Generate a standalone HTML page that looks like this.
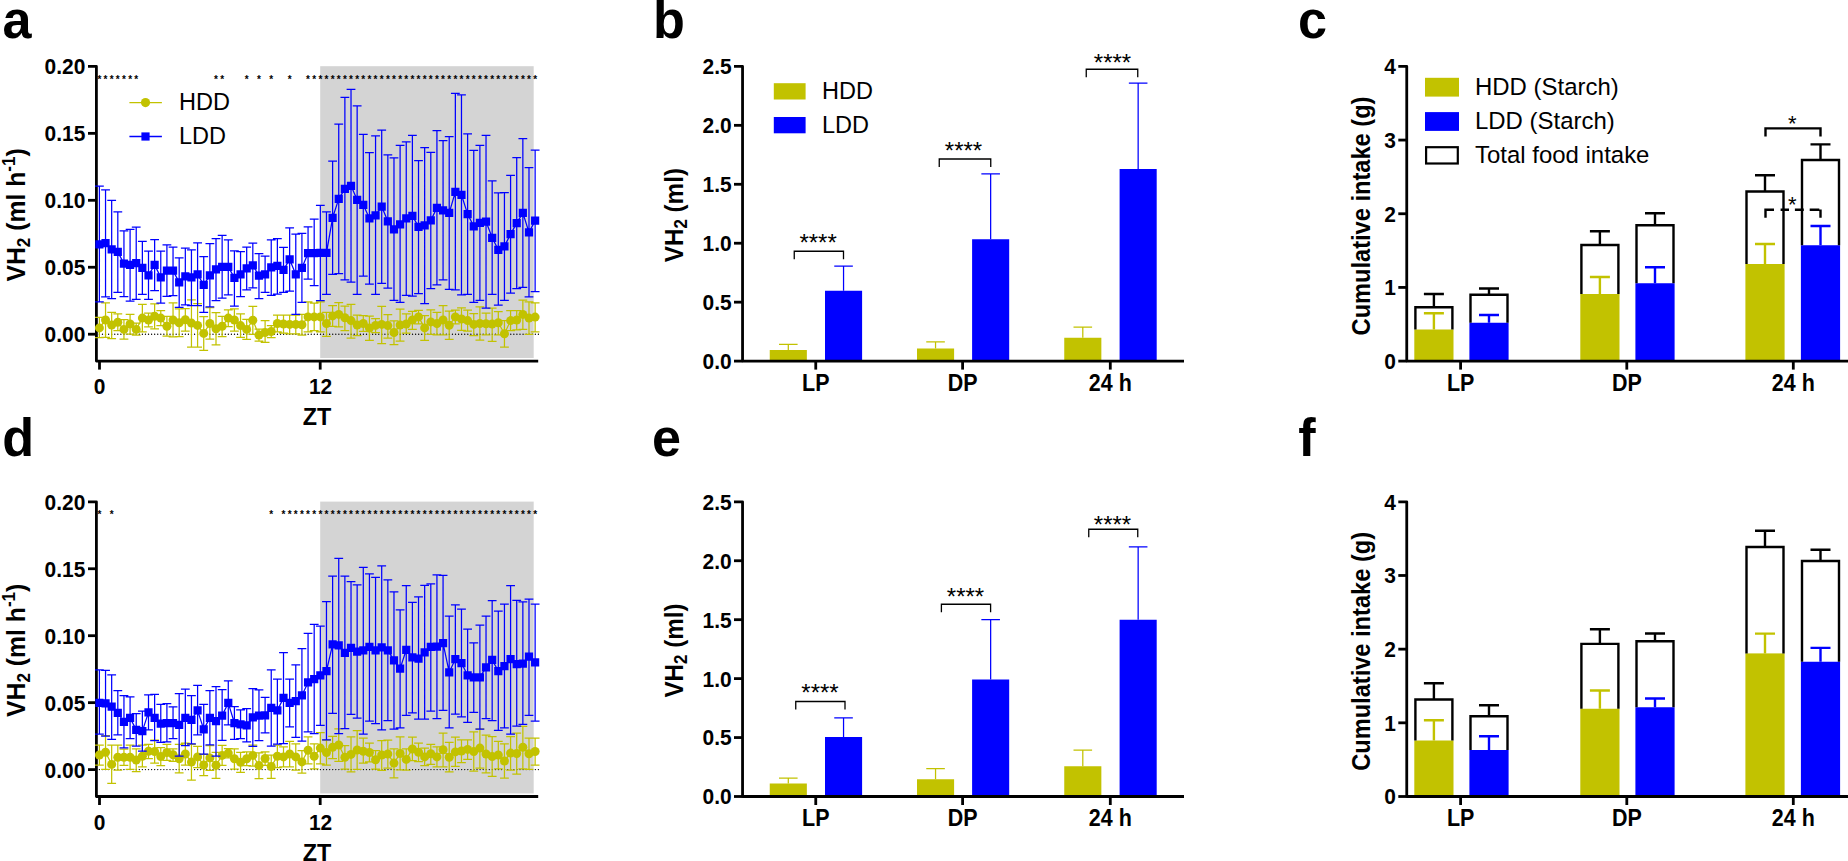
<!DOCTYPE html>
<html lang="en"><head><meta charset="utf-8"><title>Figure</title>
<style>html,body{margin:0;padding:0;background:#fff}svg{display:block}</style></head>
<body>
<svg width="1848" height="861" viewBox="0 0 1848 861" font-family="'Liberation Sans', sans-serif" font-weight="bold" text-anchor="middle" fill="#000">
<rect width="1848" height="861" fill="#fff"/>
<rect x="320.2" y="66.2" width="213.5" height="291.8" fill="#d4d4d4"/>
<path d="M88 66.4H96.4V361.1H538.2" fill="none" stroke="#000" stroke-width="2.8" stroke-linejoin="round"/>
<line x1="88" y1="334.2" x2="96.4" y2="334.2" stroke="#000" stroke-width="2.8" />
<text transform="translate(85.3 342.1) scale(0.918 1)" font-size="22.8" text-anchor="end" >0.00</text>
<line x1="88" y1="267.25" x2="96.4" y2="267.25" stroke="#000" stroke-width="2.8" />
<text transform="translate(85.3 275.15) scale(0.918 1)" font-size="22.8" text-anchor="end" >0.05</text>
<line x1="88" y1="200.3" x2="96.4" y2="200.3" stroke="#000" stroke-width="2.8" />
<text transform="translate(85.3 208.2) scale(0.918 1)" font-size="22.8" text-anchor="end" >0.10</text>
<line x1="88" y1="133.35" x2="96.4" y2="133.35" stroke="#000" stroke-width="2.8" />
<text transform="translate(85.3 141.25) scale(0.918 1)" font-size="22.8" text-anchor="end" >0.15</text>
<text transform="translate(85.3 74.3) scale(0.918 1)" font-size="22.8" text-anchor="end" >0.20</text>
<line x1="99.5" y1="361.1" x2="99.5" y2="369.6" stroke="#000" stroke-width="2.8" />
<text transform="translate(99.5 393.8) scale(0.918 1)" font-size="22.8" >0</text>
<line x1="320.2" y1="361.1" x2="320.2" y2="369.6" stroke="#000" stroke-width="2.8" />
<text transform="translate(320.6 393.8) scale(0.918 1)" font-size="22.8" >12</text>
<text transform="translate(317 424.9) scale(0.95 1)" font-size="24.6" >ZT</text>
<text transform="translate(25 214.9) rotate(-90) scale(0.978 1)" font-size="25.3">VH<tspan font-size="17.5" dy="4.5">2</tspan><tspan dy="-4.5"> (ml h</tspan><tspan font-size="17.5" dy="-10">-1</tspan><tspan dy="10">)</tspan></text>
<line x1="99.4" y1="334.2" x2="538.9" y2="334.2" stroke="#000" stroke-width="1.35" stroke-dasharray="0.01 3.06" stroke-linecap="round"/>
<path d="M99.4 327.88L105.54 320L111.67 325L117.81 322.25L123.95 329.38L130.09 324L136.22 329.38L142.36 318.12L148.5 320L154.63 316.25L160.77 318.12L166.91 326.25L173.04 320L179.18 322.75L185.32 319.75L191.45 323.12L197.59 325.38L203.73 333.38L209.87 323.5L216 328.75L222.14 326.25L228.28 318.12L234.41 320L240.55 325.62L246.69 329.38L252.82 320.25L258.96 335L265.1 332.5L271.24 331.5L277.37 323.5L283.51 324L289.65 324.38L295.78 324.38L301.92 324.75L308.06 316.88L314.19 316.88L320.33 316.88L326.47 323.5L332.61 315.88L338.74 314.38L344.88 317.75L351.02 320.62L357.15 325L363.29 323.5L369.43 328.12L375.56 325.38L381.7 324.38L387.84 325.62L393.98 332.5L400.11 325L406.25 324L412.39 320L418.52 316.88L424.66 327.88L430.8 321.88L436.93 323.5L443.07 320L449.21 325.25L455.35 316.88L461.48 319L467.62 320.62L473.76 324.38L479.89 323.5L486.03 323.75L492.17 324L498.3 322.75L504.44 333.75L510.58 320.62L516.72 320L522.85 314.38L528.99 318.12L535.13 317.12M99.4 317.25V337.5M95 317.25h8.8M95 337.5h8.8M105.54 302.88V337.25M101.14 302.88h8.8M101.14 337.25h8.8M111.67 312.25V338.5M107.27 312.25h8.8M107.27 338.5h8.8M117.81 313.75V330.62M113.41 313.75h8.8M113.41 330.62h8.8M123.95 319.62V339M119.55 319.62h8.8M119.55 339h8.8M130.09 314.38V334M125.69 314.38h8.8M125.69 334h8.8M136.22 323.12V335M131.82 323.12h8.8M131.82 335h8.8M142.36 304.38V331.88M137.96 304.38h8.8M137.96 331.88h8.8M148.5 313.12V326.88M144.1 313.12h8.8M144.1 326.88h8.8M154.63 303.75V328.75M150.23 303.75h8.8M150.23 328.75h8.8M160.77 310.62V325.62M156.37 310.62h8.8M156.37 325.62h8.8M166.91 316.25V336M162.51 316.25h8.8M162.51 336h8.8M173.04 302.88V336.88M168.64 302.88h8.8M168.64 336.88h8.8M179.18 308.75V336.62M174.78 308.75h8.8M174.78 336.62h8.8M185.32 308.5V331M180.92 308.5h8.8M180.92 331h8.8M191.45 299.75V347.12M187.05 299.75h8.8M187.05 347.12h8.8M197.59 303.5V347.12M193.19 303.5h8.8M193.19 347.12h8.8M203.73 316.5V350.25M199.33 316.5h8.8M199.33 350.25h8.8M209.87 307.5V339.12M205.47 307.5h8.8M205.47 339.12h8.8M216 312.5V344.75M211.6 312.5h8.8M211.6 344.75h8.8M222.14 316.25V336.5M217.74 316.25h8.8M217.74 336.5h8.8M228.28 309.75V326.5M223.88 309.75h8.8M223.88 326.5h8.8M234.41 308.75V331M230.01 308.75h8.8M230.01 331h8.8M240.55 313.75V337.25M236.15 313.75h8.8M236.15 337.25h8.8M246.69 319.38V339.38M242.29 319.38h8.8M242.29 339.38h8.8M252.82 306.25V334.38M248.42 306.25h8.8M248.42 334.38h8.8M258.96 329V341M254.56 329h8.8M254.56 341h8.8M265.1 320.62V342.25M260.7 320.62h8.8M260.7 342.25h8.8M271.24 325.62V337.5M266.84 325.62h8.8M266.84 337.5h8.8M277.37 315V331.88M272.97 315h8.8M272.97 331.88h8.8M283.51 315V333.12M279.11 315h8.8M279.11 333.12h8.8M289.65 315V333.75M285.25 315h8.8M285.25 333.75h8.8M295.78 315V333.75M291.38 315h8.8M291.38 333.75h8.8M301.92 314.38V335M297.52 314.38h8.8M297.52 335h8.8M308.06 301.88V331.88M303.66 301.88h8.8M303.66 331.88h8.8M314.19 303.12V330.62M309.8 303.12h8.8M309.8 330.62h8.8M320.33 301.88V331.88M315.93 301.88h8.8M315.93 331.88h8.8M326.47 312.25V336.25M322.07 312.25h8.8M322.07 336.25h8.8M332.61 305.62V326.25M328.21 305.62h8.8M328.21 326.25h8.8M338.74 302.5V326.88M334.34 302.5h8.8M334.34 326.88h8.8M344.88 306V330.62M340.48 306h8.8M340.48 330.62h8.8M351.02 304.38V338.12M346.62 304.38h8.8M346.62 338.12h8.8M357.15 315V335.62M352.75 315h8.8M352.75 335.62h8.8M363.29 315.62V331.25M358.89 315.62h8.8M358.89 331.25h8.8M369.43 316V340.38M365.03 316h8.8M365.03 340.38h8.8M375.56 318.5V332.5M371.16 318.5h8.8M371.16 332.5h8.8M381.7 306.25V343.5M377.3 306.25h8.8M377.3 343.5h8.8M387.84 314.62V338.12M383.44 314.62h8.8M383.44 338.12h8.8M393.98 320.88V344.62M389.58 320.88h8.8M389.58 344.62h8.8M400.11 309V341M395.71 309h8.8M395.71 341h8.8M406.25 313.75V333.12M401.85 313.75h8.8M401.85 333.12h8.8M412.39 311.25V329.38M407.99 311.25h8.8M407.99 329.38h8.8M418.52 310.25V323.75M414.12 310.25h8.8M414.12 323.75h8.8M424.66 315.62V340.38M420.26 315.62h8.8M420.26 340.38h8.8M430.8 309.75V334.38M426.4 309.75h8.8M426.4 334.38h8.8M436.93 312.25V334.75M432.53 312.25h8.8M432.53 334.75h8.8M443.07 305.62V334.75M438.67 305.62h8.8M438.67 334.75h8.8M449.21 311V339.38M444.81 311h8.8M444.81 339.38h8.8M455.35 310V323.75M450.95 310h8.8M450.95 323.75h8.8M461.48 307.75V330.25M457.08 307.75h8.8M457.08 330.25h8.8M467.62 310V331M463.22 310h8.8M463.22 331h8.8M473.76 313.5V335.62M469.36 313.5h8.8M469.36 335.62h8.8M479.89 306.88V340M475.49 306.88h8.8M475.49 340h8.8M486.03 313.12V334.75M481.63 313.12h8.8M481.63 334.75h8.8M492.17 308.12V341.25M487.77 308.12h8.8M487.77 341.25h8.8M498.3 311.5V334.75M493.9 311.5h8.8M493.9 334.75h8.8M504.44 320.62V347.12M500.04 320.62h8.8M500.04 347.12h8.8M510.58 310.62V330.62M506.18 310.62h8.8M506.18 330.62h8.8M516.72 310.62V329.75M512.32 310.62h8.8M512.32 329.75h8.8M522.85 300V329.38M518.45 300h8.8M518.45 329.38h8.8M528.99 301.88V334.38M524.59 301.88h8.8M524.59 334.38h8.8M535.13 302.88V331.88M530.73 302.88h8.8M530.73 331.88h8.8" fill="none" stroke="#c2c200" stroke-width="1.25"/>
<g fill="#c2c200"><circle cx="99.4" cy="327.88" r="4.5"/><circle cx="105.54" cy="320" r="4.5"/><circle cx="111.67" cy="325" r="4.5"/><circle cx="117.81" cy="322.25" r="4.5"/><circle cx="123.95" cy="329.38" r="4.5"/><circle cx="130.09" cy="324" r="4.5"/><circle cx="136.22" cy="329.38" r="4.5"/><circle cx="142.36" cy="318.12" r="4.5"/><circle cx="148.5" cy="320" r="4.5"/><circle cx="154.63" cy="316.25" r="4.5"/><circle cx="160.77" cy="318.12" r="4.5"/><circle cx="166.91" cy="326.25" r="4.5"/><circle cx="173.04" cy="320" r="4.5"/><circle cx="179.18" cy="322.75" r="4.5"/><circle cx="185.32" cy="319.75" r="4.5"/><circle cx="191.45" cy="323.12" r="4.5"/><circle cx="197.59" cy="325.38" r="4.5"/><circle cx="203.73" cy="333.38" r="4.5"/><circle cx="209.87" cy="323.5" r="4.5"/><circle cx="216" cy="328.75" r="4.5"/><circle cx="222.14" cy="326.25" r="4.5"/><circle cx="228.28" cy="318.12" r="4.5"/><circle cx="234.41" cy="320" r="4.5"/><circle cx="240.55" cy="325.62" r="4.5"/><circle cx="246.69" cy="329.38" r="4.5"/><circle cx="252.82" cy="320.25" r="4.5"/><circle cx="258.96" cy="335" r="4.5"/><circle cx="265.1" cy="332.5" r="4.5"/><circle cx="271.24" cy="331.5" r="4.5"/><circle cx="277.37" cy="323.5" r="4.5"/><circle cx="283.51" cy="324" r="4.5"/><circle cx="289.65" cy="324.38" r="4.5"/><circle cx="295.78" cy="324.38" r="4.5"/><circle cx="301.92" cy="324.75" r="4.5"/><circle cx="308.06" cy="316.88" r="4.5"/><circle cx="314.19" cy="316.88" r="4.5"/><circle cx="320.33" cy="316.88" r="4.5"/><circle cx="326.47" cy="323.5" r="4.5"/><circle cx="332.61" cy="315.88" r="4.5"/><circle cx="338.74" cy="314.38" r="4.5"/><circle cx="344.88" cy="317.75" r="4.5"/><circle cx="351.02" cy="320.62" r="4.5"/><circle cx="357.15" cy="325" r="4.5"/><circle cx="363.29" cy="323.5" r="4.5"/><circle cx="369.43" cy="328.12" r="4.5"/><circle cx="375.56" cy="325.38" r="4.5"/><circle cx="381.7" cy="324.38" r="4.5"/><circle cx="387.84" cy="325.62" r="4.5"/><circle cx="393.98" cy="332.5" r="4.5"/><circle cx="400.11" cy="325" r="4.5"/><circle cx="406.25" cy="324" r="4.5"/><circle cx="412.39" cy="320" r="4.5"/><circle cx="418.52" cy="316.88" r="4.5"/><circle cx="424.66" cy="327.88" r="4.5"/><circle cx="430.8" cy="321.88" r="4.5"/><circle cx="436.93" cy="323.5" r="4.5"/><circle cx="443.07" cy="320" r="4.5"/><circle cx="449.21" cy="325.25" r="4.5"/><circle cx="455.35" cy="316.88" r="4.5"/><circle cx="461.48" cy="319" r="4.5"/><circle cx="467.62" cy="320.62" r="4.5"/><circle cx="473.76" cy="324.38" r="4.5"/><circle cx="479.89" cy="323.5" r="4.5"/><circle cx="486.03" cy="323.75" r="4.5"/><circle cx="492.17" cy="324" r="4.5"/><circle cx="498.3" cy="322.75" r="4.5"/><circle cx="504.44" cy="333.75" r="4.5"/><circle cx="510.58" cy="320.62" r="4.5"/><circle cx="516.72" cy="320" r="4.5"/><circle cx="522.85" cy="314.38" r="4.5"/><circle cx="528.99" cy="318.12" r="4.5"/><circle cx="535.13" cy="317.12" r="4.5"/></g>
<path d="M99.4 244.42L105.54 243.17L111.67 249.41L117.81 251.91L123.95 263.65L130.09 264.9L136.22 263.15L142.36 267.89L148.5 275.38L154.63 264.9L160.77 277.38L166.91 270.64L173.04 270.64L179.18 282.38L185.32 276.38L191.45 277.38L197.59 274.39L203.73 284.88L209.87 275.38L216 269.39L222.14 266.89L228.28 266.89L234.41 277.88L240.55 274.39L246.69 268.39L252.82 265.39L258.96 275.63L265.1 274.39L271.24 267.39L277.37 265.89L283.51 269.89L289.65 259.4L295.78 274.39L301.92 267.89L308.06 253.16L314.19 253.16L320.33 252.81L326.47 252.81L332.61 217.84L338.74 198.86L344.88 188.87L351.02 185.87L357.15 199.86L363.29 204.86L369.43 218.34L375.56 215.34L381.7 206.6L387.84 221.34L393.98 229.33L400.11 224.34L406.25 218.34L412.39 215.84L418.52 226.83L424.66 225.33L430.8 220.34L436.93 207.85L443.07 210.35L449.21 212.85L455.35 191.87L461.48 194.87L467.62 214.1L473.76 226.33L479.89 222.84L486.03 221.59L492.17 237.82L498.3 249.81L504.44 246.31L510.58 234.08L516.72 223.09L522.85 212.85L528.99 232.33L535.13 220.59M99.4 186.22V301.86M95 186.22h8.8M95 301.86h8.8M105.54 189.97V296.86M101.14 189.97h8.8M101.14 296.86h8.8M111.67 200.46V298.61M107.27 200.46h8.8M107.27 298.61h8.8M117.81 211.95V292.37M113.41 211.95h8.8M113.41 292.37h8.8M123.95 230.93V296.61M119.55 230.93h8.8M119.55 296.61h8.8M130.09 229.43V301.11M125.69 229.43h8.8M125.69 301.11h8.8M136.22 227.18V299.36M131.82 227.18h8.8M131.82 299.36h8.8M142.36 241.42V294.37M137.96 241.42h8.8M137.96 294.37h8.8M148.5 251.16V299.36M144.1 251.16h8.8M144.1 299.36h8.8M154.63 239.67V290.62M150.23 239.67h8.8M150.23 290.62h8.8M160.77 251.16V303.11M156.37 251.16h8.8M156.37 303.11h8.8M166.91 244.92V296.36M162.51 244.92h8.8M162.51 296.36h8.8M173.04 247.16V295.61M168.64 247.16h8.8M168.64 295.61h8.8M179.18 257.9V307.35M174.78 257.9h8.8M174.78 307.35h8.8M185.32 248.16V304.86M180.92 248.16h8.8M180.92 304.86h8.8M191.45 249.91V305.6M187.05 249.91h8.8M187.05 305.6h8.8M197.59 242.92V305.6M193.19 242.92h8.8M193.19 305.6h8.8M203.73 256.65V312.35M199.33 256.65h8.8M199.33 312.35h8.8M209.87 243.67V306.85M205.47 243.67h8.8M205.47 306.85h8.8M216 238.67V300.61M211.6 238.67h8.8M211.6 300.61h8.8M222.14 235.42V298.11M217.74 235.42h8.8M217.74 298.11h8.8M228.28 239.92V294.87M223.88 239.92h8.8M223.88 294.87h8.8M234.41 250.91V306.1M230.01 250.91h8.8M230.01 306.1h8.8M240.55 251.66V296.61M236.15 251.66h8.8M236.15 296.61h8.8M246.69 247.16V289.87M242.29 247.16h8.8M242.29 289.87h8.8M252.82 243.17V287.87M248.42 243.17h8.8M248.42 287.87h8.8M258.96 253.66V298.61M254.56 253.66h8.8M254.56 298.61h8.8M265.1 256.15V292.37M260.7 256.15h8.8M260.7 292.37h8.8M271.24 239.92V295.36M266.84 239.92h8.8M266.84 295.36h8.8M277.37 238.67V294.12M272.97 238.67h8.8M272.97 294.12h8.8M283.51 247.41V292.37M279.11 247.41h8.8M279.11 292.37h8.8M289.65 227.93V291.12M285.25 227.93h8.8M285.25 291.12h8.8M295.78 234.18V314.35M291.38 234.18h8.8M291.38 314.35h8.8M301.92 233.43V302.36M297.52 233.43h8.8M297.52 302.36h8.8M308.06 226.93V279.13M303.66 226.93h8.8M303.66 279.13h8.8M314.19 219.19V285.62M309.8 219.19h8.8M309.8 285.62h8.8M320.33 205.35V300.61M315.93 205.35h8.8M315.93 300.61h8.8M326.47 211.85V294.37M322.07 211.85h8.8M322.07 294.37h8.8M332.61 161.15V274.39M328.21 161.15h8.8M328.21 274.39h8.8M338.74 124.19V273.64M334.34 124.19h8.8M334.34 273.64h8.8M344.88 97.46V279.88M340.48 97.46h8.8M340.48 279.88h8.8M351.02 89.47V282.13M346.62 89.47h8.8M346.62 282.13h8.8M357.15 105.95V294.37M352.75 105.95h8.8M352.75 294.37h8.8M363.29 134.43V276.13M358.89 134.43h8.8M358.89 276.13h8.8M369.43 152.66V284.13M365.03 152.66h8.8M365.03 284.13h8.8M375.56 135.92V294.37M371.16 135.92h8.8M371.16 294.37h8.8M381.7 130.18V283.38M377.3 130.18h8.8M377.3 283.38h8.8M387.84 154.91V288.12M383.44 154.91h8.8M383.44 288.12h8.8M393.98 157.9V300.36M389.58 157.9h8.8M389.58 300.36h8.8M400.11 145.41V302.36M395.71 145.41h8.8M395.71 302.36h8.8M406.25 141.92V295.36M401.85 141.92h8.8M401.85 295.36h8.8M412.39 135.42V296.11M407.99 135.42h8.8M407.99 296.11h8.8M418.52 160.65V293.62M414.12 160.65h8.8M414.12 293.62h8.8M424.66 147.66V303.61M420.26 147.66h8.8M420.26 303.61h8.8M430.8 152.41V288.62M426.4 152.41h8.8M426.4 288.62h8.8M436.93 130.68V284.88M432.53 130.68h8.8M432.53 284.88h8.8M443.07 140.67V279.88M438.67 140.67h8.8M438.67 279.88h8.8M449.21 136.67V289.37M444.81 136.67h8.8M444.81 289.37h8.8M455.35 93.47V289.87M450.95 93.47h8.8M450.95 289.87h8.8M461.48 94.97V294.87M457.08 94.97h8.8M457.08 294.87h8.8M467.62 133.93V294.37M463.22 133.93h8.8M463.22 294.37h8.8M473.76 150.41V302.36M469.36 150.41h8.8M469.36 302.36h8.8M479.89 145.41V300.36M475.49 145.41h8.8M475.49 300.36h8.8M486.03 135.42V308.1M481.63 135.42h8.8M481.63 308.1h8.8M492.17 180.88V294.37M487.77 180.88h8.8M487.77 294.37h8.8M498.3 192.87V305.1M493.9 192.87h8.8M493.9 305.1h8.8M504.44 192.62V300.36M500.04 192.62h8.8M500.04 300.36h8.8M510.58 175.38V293.12M506.18 175.38h8.8M506.18 293.12h8.8M516.72 157.65V288.62M512.32 157.65h8.8M512.32 288.62h8.8M522.85 138.67V287.37M518.45 138.67h8.8M518.45 287.37h8.8M528.99 167.64V296.86M524.59 167.64h8.8M524.59 296.86h8.8M535.13 150.16V291.62M530.73 150.16h8.8M530.73 291.62h8.8" fill="none" stroke="#0000ff" stroke-width="1.25"/>
<path fill="#0000ff" d="M95.3 240.32h8.2v8.2h-8.2zM101.44 239.07h8.2v8.2h-8.2zM107.57 245.31h8.2v8.2h-8.2zM113.71 247.81h8.2v8.2h-8.2zM119.85 259.55h8.2v8.2h-8.2zM125.99 260.8h8.2v8.2h-8.2zM132.12 259.05h8.2v8.2h-8.2zM138.26 263.79h8.2v8.2h-8.2zM144.4 271.28h8.2v8.2h-8.2zM150.53 260.8h8.2v8.2h-8.2zM156.67 273.28h8.2v8.2h-8.2zM162.81 266.54h8.2v8.2h-8.2zM168.94 266.54h8.2v8.2h-8.2zM175.08 278.28h8.2v8.2h-8.2zM181.22 272.28h8.2v8.2h-8.2zM187.35 273.28h8.2v8.2h-8.2zM193.49 270.29h8.2v8.2h-8.2zM199.63 280.78h8.2v8.2h-8.2zM205.77 271.28h8.2v8.2h-8.2zM211.9 265.29h8.2v8.2h-8.2zM218.04 262.79h8.2v8.2h-8.2zM224.18 262.79h8.2v8.2h-8.2zM230.31 273.78h8.2v8.2h-8.2zM236.45 270.29h8.2v8.2h-8.2zM242.59 264.29h8.2v8.2h-8.2zM248.72 261.29h8.2v8.2h-8.2zM254.86 271.53h8.2v8.2h-8.2zM261 270.29h8.2v8.2h-8.2zM267.14 263.29h8.2v8.2h-8.2zM273.27 261.79h8.2v8.2h-8.2zM279.41 265.79h8.2v8.2h-8.2zM285.55 255.3h8.2v8.2h-8.2zM291.68 270.29h8.2v8.2h-8.2zM297.82 263.79h8.2v8.2h-8.2zM303.96 249.06h8.2v8.2h-8.2zM310.09 249.06h8.2v8.2h-8.2zM316.23 248.71h8.2v8.2h-8.2zM322.37 248.71h8.2v8.2h-8.2zM328.51 213.74h8.2v8.2h-8.2zM334.64 194.76h8.2v8.2h-8.2zM340.78 184.77h8.2v8.2h-8.2zM346.92 181.77h8.2v8.2h-8.2zM353.05 195.76h8.2v8.2h-8.2zM359.19 200.76h8.2v8.2h-8.2zM365.33 214.24h8.2v8.2h-8.2zM371.46 211.24h8.2v8.2h-8.2zM377.6 202.5h8.2v8.2h-8.2zM383.74 217.24h8.2v8.2h-8.2zM389.88 225.23h8.2v8.2h-8.2zM396.01 220.24h8.2v8.2h-8.2zM402.15 214.24h8.2v8.2h-8.2zM408.29 211.74h8.2v8.2h-8.2zM414.42 222.73h8.2v8.2h-8.2zM420.56 221.23h8.2v8.2h-8.2zM426.7 216.24h8.2v8.2h-8.2zM432.83 203.75h8.2v8.2h-8.2zM438.97 206.25h8.2v8.2h-8.2zM445.11 208.75h8.2v8.2h-8.2zM451.25 187.77h8.2v8.2h-8.2zM457.38 190.77h8.2v8.2h-8.2zM463.52 210h8.2v8.2h-8.2zM469.66 222.23h8.2v8.2h-8.2zM475.79 218.74h8.2v8.2h-8.2zM481.93 217.49h8.2v8.2h-8.2zM488.07 233.72h8.2v8.2h-8.2zM494.2 245.71h8.2v8.2h-8.2zM500.34 242.21h8.2v8.2h-8.2zM506.48 229.98h8.2v8.2h-8.2zM512.62 218.99h8.2v8.2h-8.2zM518.75 208.75h8.2v8.2h-8.2zM524.89 228.23h8.2v8.2h-8.2zM531.03 216.49h8.2v8.2h-8.2z"/>
<text font-size="10" text-anchor="middle" y="82.8" x="99.4 105.54 111.67 117.81 123.95 130.09 136.22 216 222.14 246.69 258.96 271.24 289.65 308.06 314.19 320.33 326.47 332.61 338.74 344.88 351.02 357.15 363.29 369.43 375.56 381.7 387.84 393.98 400.11 406.25 412.39 418.52 424.66 430.8 436.93 443.07 449.21 455.35 461.48 467.62 473.76 479.89 486.03 492.17 498.3 504.44 510.58 516.72 522.85 528.99 535.13">***************************************************</text>
<line x1="129.4" y1="102.6" x2="161.9" y2="102.6" stroke="#c2c200" stroke-width="1.3" />
<circle cx="145.5" cy="102.6" r="4.6" fill="#c2c200"/>
<line x1="129.4" y1="136.5" x2="161.9" y2="136.5" stroke="#0000ff" stroke-width="1.3" />
<rect x="141.4" y="132.4" width="8.2" height="8.2" fill="#0000ff"/>
<text transform="translate(179 110)" font-size="23.5" font-weight="normal" text-anchor="start" >HDD</text>
<text transform="translate(179 144)" font-size="23.5" font-weight="normal" text-anchor="start" >LDD</text>
<rect x="320.2" y="501.6" width="213.5" height="291.8" fill="#d4d4d4"/>
<path d="M88 501.8H96.4V796.5H538.2" fill="none" stroke="#000" stroke-width="2.8" stroke-linejoin="round"/>
<line x1="88" y1="769.6" x2="96.4" y2="769.6" stroke="#000" stroke-width="2.8" />
<text transform="translate(85.3 777.5) scale(0.918 1)" font-size="22.8" text-anchor="end" >0.00</text>
<line x1="88" y1="702.65" x2="96.4" y2="702.65" stroke="#000" stroke-width="2.8" />
<text transform="translate(85.3 710.55) scale(0.918 1)" font-size="22.8" text-anchor="end" >0.05</text>
<line x1="88" y1="635.7" x2="96.4" y2="635.7" stroke="#000" stroke-width="2.8" />
<text transform="translate(85.3 643.6) scale(0.918 1)" font-size="22.8" text-anchor="end" >0.10</text>
<line x1="88" y1="568.75" x2="96.4" y2="568.75" stroke="#000" stroke-width="2.8" />
<text transform="translate(85.3 576.65) scale(0.918 1)" font-size="22.8" text-anchor="end" >0.15</text>
<text transform="translate(85.3 509.7) scale(0.918 1)" font-size="22.8" text-anchor="end" >0.20</text>
<line x1="99.5" y1="796.5" x2="99.5" y2="805" stroke="#000" stroke-width="2.8" />
<text transform="translate(99.5 829.8) scale(0.918 1)" font-size="22.8" >0</text>
<line x1="320.2" y1="796.5" x2="320.2" y2="805" stroke="#000" stroke-width="2.8" />
<text transform="translate(320.6 829.8) scale(0.918 1)" font-size="22.8" >12</text>
<text transform="translate(317 860.9) scale(0.95 1)" font-size="24.6" >ZT</text>
<text transform="translate(25 650.3) rotate(-90) scale(0.978 1)" font-size="25.3">VH<tspan font-size="17.5" dy="4.5">2</tspan><tspan dy="-4.5"> (ml h</tspan><tspan font-size="17.5" dy="-10">-1</tspan><tspan dy="10">)</tspan></text>
<line x1="99.4" y1="769.6" x2="538.9" y2="769.6" stroke="#000" stroke-width="1.35" stroke-dasharray="0.01 3.06" stroke-linecap="round"/>
<path d="M99.4 755L105.54 752.25L111.67 764.38L117.81 757.25L123.95 757.25L130.09 757.25L136.22 760L142.36 756.25L148.5 751.25L154.63 751.62L160.77 756.5L166.91 752.5L173.04 754.75L179.18 758.75L185.32 754L191.45 762.12L197.59 756.88L203.73 765L209.87 757.88L216 765.25L222.14 755.38L228.28 753.12L234.41 758.75L240.55 762.25L246.69 758.75L252.82 755.38L258.96 765.62L265.1 758.5L271.24 766.5L277.37 756.25L283.51 756.88L289.65 754L295.78 756.88L301.92 761.88L308.06 750.25L314.19 756.25L320.33 748.12L326.47 752.5L332.61 747.25L338.74 745L344.88 757.25L351.02 754.38L357.15 750L363.29 751.25L369.43 752.5L375.56 759.75L381.7 755L387.84 754L393.98 763.12L400.11 753.5L406.25 759.38L412.39 749L418.52 752.25L424.66 756.88L430.8 753.75L436.93 756.88L443.07 749.75L449.21 757.25L455.35 751.88L461.48 751L467.62 749.38L473.76 751.62L479.89 748.12L486.03 754L492.17 756.5L498.3 755L504.44 761L510.58 753.12L516.72 753.5L522.85 747.25L528.99 753.75L535.13 751.5M99.4 745V765M95 745h8.8M95 765h8.8M105.54 735.62V769.38M101.14 735.62h8.8M101.14 769.38h8.8M111.67 745V783.38M107.27 745h8.8M107.27 783.38h8.8M117.81 745V770M113.41 745h8.8M113.41 770h8.8M123.95 749V765.25M119.55 749h8.8M119.55 765.25h8.8M130.09 745V769.38M125.69 745h8.8M125.69 769.38h8.8M136.22 748.75V771.5M131.82 748.75h8.8M131.82 771.5h8.8M142.36 745V766.88M137.96 745h8.8M137.96 766.88h8.8M148.5 744.38V758.5M144.1 744.38h8.8M144.1 758.5h8.8M154.63 740V763.12M150.23 740h8.8M150.23 763.12h8.8M160.77 747.5V765.62M156.37 747.5h8.8M156.37 765.62h8.8M166.91 744.38V760.38M162.51 744.38h8.8M162.51 760.38h8.8M173.04 748.75V761.25M168.64 748.75h8.8M168.64 761.25h8.8M179.18 744.38V772.88M174.78 744.38h8.8M174.78 772.88h8.8M185.32 743.12V765M180.92 743.12h8.8M180.92 765h8.8M191.45 744.38V780M187.05 744.38h8.8M187.05 780h8.8M197.59 746.25V767.5M193.19 746.25h8.8M193.19 767.5h8.8M203.73 754.38V775.62M199.33 754.38h8.8M199.33 775.62h8.8M209.87 745.62V770.25M205.47 745.62h8.8M205.47 770.25h8.8M216 752.25V778.38M211.6 752.25h8.8M211.6 778.38h8.8M222.14 745.25V765.25M217.74 745.25h8.8M217.74 765.25h8.8M228.28 748.5V757.75M223.88 748.5h8.8M223.88 757.75h8.8M234.41 748.75V769M230.01 748.75h8.8M230.01 769h8.8M240.55 752.25V772.25M236.15 752.25h8.8M236.15 772.25h8.8M246.69 751.88V765.62M242.29 751.88h8.8M242.29 765.62h8.8M252.82 745V766M248.42 745h8.8M248.42 766h8.8M258.96 752.75V778.5M254.56 752.75h8.8M254.56 778.5h8.8M265.1 751.88V765.25M260.7 751.88h8.8M260.7 765.25h8.8M271.24 755V778.38M266.84 755h8.8M266.84 778.38h8.8M277.37 745V767.5M272.97 745h8.8M272.97 767.5h8.8M283.51 746.88V766.88M279.11 746.88h8.8M279.11 766.88h8.8M289.65 741.25V766.88M285.25 741.25h8.8M285.25 766.88h8.8M295.78 743.75V770M291.38 743.75h8.8M291.38 770h8.8M301.92 750.62V773.12M297.52 750.62h8.8M297.52 773.12h8.8M308.06 736.88V763.75M303.66 736.88h8.8M303.66 763.75h8.8M314.19 743.75V768.75M309.8 743.75h8.8M309.8 768.75h8.8M320.33 732.5V763.75M315.93 732.5h8.8M315.93 763.75h8.8M326.47 740V765M322.07 740h8.8M322.07 765h8.8M332.61 736.25V758.5M328.21 736.25h8.8M328.21 758.5h8.8M338.74 728.75V761.25M334.34 728.75h8.8M334.34 761.25h8.8M344.88 745.62V769M340.48 745.62h8.8M340.48 769h8.8M351.02 736.88V771.88M346.62 736.88h8.8M346.62 771.88h8.8M357.15 730.62V769.38M352.75 730.62h8.8M352.75 769.38h8.8M363.29 738.12V763.12M358.89 738.12h8.8M358.89 763.12h8.8M369.43 743.12V761.88M365.03 743.12h8.8M365.03 761.88h8.8M375.56 750.62V769M371.16 750.62h8.8M371.16 769h8.8M381.7 740.62V770.25M377.3 740.62h8.8M377.3 770.25h8.8M387.84 740V768.12M383.44 740h8.8M383.44 768.12h8.8M393.98 748.75V777.75M389.58 748.75h8.8M389.58 777.75h8.8M400.11 736.88V769.75M395.71 736.88h8.8M395.71 769.75h8.8M406.25 748.75V770M401.85 748.75h8.8M401.85 770h8.8M412.39 737.12V760.62M407.99 737.12h8.8M407.99 760.62h8.8M418.52 743.12V761.5M414.12 743.12h8.8M414.12 761.5h8.8M424.66 748.12V765.62M420.26 748.12h8.8M420.26 765.62h8.8M430.8 744.38V764.38M426.4 744.38h8.8M426.4 764.38h8.8M436.93 746.88V766.88M432.53 746.88h8.8M432.53 766.88h8.8M443.07 733.12V766.88M438.67 733.12h8.8M438.67 766.88h8.8M449.21 742.25V771.88M444.81 742.25h8.8M444.81 771.88h8.8M455.35 737.12V766.25M450.95 737.12h8.8M450.95 766.25h8.8M461.48 739.75V762.5M457.08 739.75h8.8M457.08 762.5h8.8M467.62 739.75V759.38M463.22 739.75h8.8M463.22 759.38h8.8M473.76 731.88V771M469.36 731.88h8.8M469.36 771h8.8M479.89 728.75V768.12M475.49 728.75h8.8M475.49 768.12h8.8M486.03 735V772.88M481.63 735h8.8M481.63 772.88h8.8M492.17 736.5V776.25M487.77 736.5h8.8M487.77 776.25h8.8M498.3 741.25V768.75M493.9 741.25h8.8M493.9 768.75h8.8M504.44 743.75V778.12M500.04 743.75h8.8M500.04 778.12h8.8M510.58 736.5V770M506.18 736.5h8.8M506.18 770h8.8M516.72 733.12V774M512.32 733.12h8.8M512.32 774h8.8M522.85 726.25V768.75M518.45 726.25h8.8M518.45 768.75h8.8M528.99 738.12V769.38M524.59 738.12h8.8M524.59 769.38h8.8M535.13 738.12V765M530.73 738.12h8.8M530.73 765h8.8" fill="none" stroke="#c2c200" stroke-width="1.25"/>
<g fill="#c2c200"><circle cx="99.4" cy="755" r="4.5"/><circle cx="105.54" cy="752.25" r="4.5"/><circle cx="111.67" cy="764.38" r="4.5"/><circle cx="117.81" cy="757.25" r="4.5"/><circle cx="123.95" cy="757.25" r="4.5"/><circle cx="130.09" cy="757.25" r="4.5"/><circle cx="136.22" cy="760" r="4.5"/><circle cx="142.36" cy="756.25" r="4.5"/><circle cx="148.5" cy="751.25" r="4.5"/><circle cx="154.63" cy="751.62" r="4.5"/><circle cx="160.77" cy="756.5" r="4.5"/><circle cx="166.91" cy="752.5" r="4.5"/><circle cx="173.04" cy="754.75" r="4.5"/><circle cx="179.18" cy="758.75" r="4.5"/><circle cx="185.32" cy="754" r="4.5"/><circle cx="191.45" cy="762.12" r="4.5"/><circle cx="197.59" cy="756.88" r="4.5"/><circle cx="203.73" cy="765" r="4.5"/><circle cx="209.87" cy="757.88" r="4.5"/><circle cx="216" cy="765.25" r="4.5"/><circle cx="222.14" cy="755.38" r="4.5"/><circle cx="228.28" cy="753.12" r="4.5"/><circle cx="234.41" cy="758.75" r="4.5"/><circle cx="240.55" cy="762.25" r="4.5"/><circle cx="246.69" cy="758.75" r="4.5"/><circle cx="252.82" cy="755.38" r="4.5"/><circle cx="258.96" cy="765.62" r="4.5"/><circle cx="265.1" cy="758.5" r="4.5"/><circle cx="271.24" cy="766.5" r="4.5"/><circle cx="277.37" cy="756.25" r="4.5"/><circle cx="283.51" cy="756.88" r="4.5"/><circle cx="289.65" cy="754" r="4.5"/><circle cx="295.78" cy="756.88" r="4.5"/><circle cx="301.92" cy="761.88" r="4.5"/><circle cx="308.06" cy="750.25" r="4.5"/><circle cx="314.19" cy="756.25" r="4.5"/><circle cx="320.33" cy="748.12" r="4.5"/><circle cx="326.47" cy="752.5" r="4.5"/><circle cx="332.61" cy="747.25" r="4.5"/><circle cx="338.74" cy="745" r="4.5"/><circle cx="344.88" cy="757.25" r="4.5"/><circle cx="351.02" cy="754.38" r="4.5"/><circle cx="357.15" cy="750" r="4.5"/><circle cx="363.29" cy="751.25" r="4.5"/><circle cx="369.43" cy="752.5" r="4.5"/><circle cx="375.56" cy="759.75" r="4.5"/><circle cx="381.7" cy="755" r="4.5"/><circle cx="387.84" cy="754" r="4.5"/><circle cx="393.98" cy="763.12" r="4.5"/><circle cx="400.11" cy="753.5" r="4.5"/><circle cx="406.25" cy="759.38" r="4.5"/><circle cx="412.39" cy="749" r="4.5"/><circle cx="418.52" cy="752.25" r="4.5"/><circle cx="424.66" cy="756.88" r="4.5"/><circle cx="430.8" cy="753.75" r="4.5"/><circle cx="436.93" cy="756.88" r="4.5"/><circle cx="443.07" cy="749.75" r="4.5"/><circle cx="449.21" cy="757.25" r="4.5"/><circle cx="455.35" cy="751.88" r="4.5"/><circle cx="461.48" cy="751" r="4.5"/><circle cx="467.62" cy="749.38" r="4.5"/><circle cx="473.76" cy="751.62" r="4.5"/><circle cx="479.89" cy="748.12" r="4.5"/><circle cx="486.03" cy="754" r="4.5"/><circle cx="492.17" cy="756.5" r="4.5"/><circle cx="498.3" cy="755" r="4.5"/><circle cx="504.44" cy="761" r="4.5"/><circle cx="510.58" cy="753.12" r="4.5"/><circle cx="516.72" cy="753.5" r="4.5"/><circle cx="522.85" cy="747.25" r="4.5"/><circle cx="528.99" cy="753.75" r="4.5"/><circle cx="535.13" cy="751.5" r="4.5"/></g>
<path d="M99.4 702.89L105.54 703.39L111.67 706.64L117.81 712.88L123.95 721.87L130.09 717.88L136.22 729.87L142.36 731.11L148.5 712.38L154.63 717.88L160.77 723.62L166.91 723.12L173.04 723.12L179.18 724.87L185.32 717.88L191.45 719.88L197.59 710.38L203.73 729.37L209.87 717.88L216 721.12L222.14 715.63L228.28 702.89L234.41 723.12L240.55 724.37L246.69 725.37L252.82 717.38L258.96 715.63L265.1 715.38L271.24 707.89L277.37 710.38L283.51 697.9L289.65 702.89L295.78 701.14L301.92 695.4L308.06 682.41L314.19 679.17L320.33 675.32L326.47 671.07L332.61 644.35L338.74 645.35L344.88 652.84L351.02 647.85L357.15 651.59L363.29 650.34L369.43 646.85L375.56 650.34L381.7 647.35L387.84 650.34L393.98 660.33L400.11 668.58L406.25 649.85L412.39 657.34L418.52 658.59L424.66 652.34L430.8 646.85L436.93 646.6L443.07 643.1L449.21 672.32L455.35 659.09L461.48 663.08L467.62 675.32L473.76 677.32L479.89 677.32L486.03 667.33L492.17 659.84L498.3 671.07L504.44 666.08L510.58 659.09L516.72 664.08L522.85 663.58L528.99 656.59L535.13 662.33M99.4 669.93V734.11M95 669.93h8.8M95 734.11h8.8M105.54 670.42V736.11M101.14 670.42h8.8M101.14 736.11h8.8M111.67 674.92V739.36M107.27 674.92h8.8M107.27 739.36h8.8M117.81 690.65V734.86M113.41 690.65h8.8M113.41 734.86h8.8M123.95 695.65V747.85M119.55 695.65h8.8M119.55 747.85h8.8M130.09 696.9V738.61M125.69 696.9h8.8M125.69 738.61h8.8M136.22 713.63V746.1M131.82 713.63h8.8M131.82 746.1h8.8M142.36 711.13V751.09M137.96 711.13h8.8M137.96 751.09h8.8M148.5 694.9V729.87M144.1 694.9h8.8M144.1 729.87h8.8M154.63 694.4V740.6M150.23 694.4h8.8M150.23 740.6h8.8M160.77 704.39V742.35M156.37 704.39h8.8M156.37 742.35h8.8M166.91 703.64V741.85M162.51 703.64h8.8M162.51 741.85h8.8M173.04 706.89V738.61M168.64 706.89h8.8M168.64 738.61h8.8M179.18 693.65V756.09M174.78 693.65h8.8M174.78 756.09h8.8M185.32 689.16V745.6M180.92 689.16h8.8M180.92 745.6h8.8M191.45 695.65V743.85M187.05 695.65h8.8M187.05 743.85h8.8M197.59 685.41V734.86M193.19 685.41h8.8M193.19 734.86h8.8M203.73 704.39V754.09M199.33 704.39h8.8M199.33 754.09h8.8M209.87 690.65V744.85M205.47 690.65h8.8M205.47 744.85h8.8M216 686.66V756.09M211.6 686.66h8.8M211.6 756.09h8.8M222.14 689.66V740.35M217.74 689.66h8.8M217.74 740.35h8.8M228.28 680.91V724.87M223.88 680.91h8.8M223.88 724.87h8.8M234.41 706.64V739.36M230.01 706.64h8.8M230.01 739.36h8.8M240.55 709.89V738.61M236.15 709.89h8.8M236.15 738.61h8.8M246.69 708.64V741.85M242.29 708.64h8.8M242.29 741.85h8.8M252.82 688.66V746.35M248.42 688.66h8.8M248.42 746.35h8.8M258.96 689.91V740.6M254.56 689.91h8.8M254.56 740.6h8.8M265.1 697.4V732.86M260.7 697.4h8.8M260.7 732.86h8.8M271.24 669.93V746.1M266.84 669.93h8.8M266.84 746.1h8.8M277.37 679.17V744.1M272.97 679.17h8.8M272.97 744.1h8.8M283.51 652.69V743.6M279.11 652.69h8.8M279.11 743.6h8.8M289.65 679.17V726.87M285.25 679.17h8.8M285.25 726.87h8.8M295.78 664.93V737.36M291.38 664.93h8.8M291.38 737.36h8.8M301.92 648.7V741.1M297.52 648.7h8.8M297.52 741.1h8.8M308.06 633.46V731.86M303.66 633.46h8.8M303.66 731.86h8.8M314.19 624.47V733.61M309.8 624.47h8.8M309.8 733.61h8.8M320.33 626.12V725.37M315.93 626.12h8.8M315.93 725.37h8.8M326.47 601.64V739.86M322.07 601.64h8.8M322.07 739.86h8.8M332.61 576.17V713.38M328.21 576.17h8.8M328.21 713.38h8.8M338.74 558.44V733.61M334.34 558.44h8.8M334.34 733.61h8.8M344.88 576.17V728.62M340.48 576.17h8.8M340.48 728.62h8.8M351.02 581.66V714.38M346.62 581.66h8.8M346.62 714.38h8.8M357.15 584.91V718.13M352.75 584.91h8.8M352.75 718.13h8.8M363.29 567.43V734.11M358.89 567.43h8.8M358.89 734.11h8.8M369.43 573.92V721.12M365.03 573.92h8.8M365.03 721.12h8.8M375.56 577.42V723.62M371.16 577.42h8.8M371.16 723.62h8.8M381.7 565.93V729.87M377.3 565.93h8.8M377.3 729.87h8.8M387.84 579.92V720.62M383.44 579.92h8.8M383.44 720.62h8.8M393.98 591.9V729.12M389.58 591.9h8.8M389.58 729.12h8.8M400.11 609.89V727.87M395.71 609.89h8.8M395.71 727.87h8.8M406.25 585.66V715.38M401.85 585.66h8.8M401.85 715.38h8.8M412.39 602.39V712.88M407.99 602.39h8.8M407.99 712.88h8.8M418.52 596.9V719.13M414.12 596.9h8.8M414.12 719.13h8.8M424.66 585.41V719.13M420.26 585.41h8.8M420.26 719.13h8.8M430.8 583.91V711.13M426.4 583.91h8.8M426.4 711.13h8.8M436.93 574.92V718.63M432.53 574.92h8.8M432.53 718.63h8.8M443.07 575.42V710.38M438.67 575.42h8.8M438.67 710.38h8.8M449.21 616.13V727.87M444.81 616.13h8.8M444.81 727.87h8.8M455.35 604.89V714.13M450.95 604.89h8.8M450.95 714.13h8.8M461.48 609.14V716.88M457.08 609.14h8.8M457.08 716.88h8.8M467.62 629.12V722.37M463.22 629.12h8.8M463.22 722.37h8.8M473.76 642.85V712.38M469.36 642.85h8.8M469.36 712.38h8.8M479.89 625.12V729.12M475.49 625.12h8.8M475.49 729.12h8.8M486.03 616.13V718.63M481.63 616.13h8.8M481.63 718.63h8.8M492.17 600.64V720.62M487.77 600.64h8.8M487.77 720.62h8.8M498.3 611.13V730.36M493.9 611.13h8.8M493.9 730.36h8.8M504.44 604.14V727.87M500.04 604.14h8.8M500.04 727.87h8.8M510.58 585.66V734.11M506.18 585.66h8.8M506.18 734.11h8.8M516.72 600.39V726.12M512.32 600.39h8.8M512.32 726.12h8.8M522.85 601.89V724.37M518.45 601.89h8.8M518.45 724.37h8.8M528.99 599.15V715.38M524.59 599.15h8.8M524.59 715.38h8.8M535.13 604.14V721.12M530.73 604.14h8.8M530.73 721.12h8.8" fill="none" stroke="#0000ff" stroke-width="1.25"/>
<path fill="#0000ff" d="M95.3 698.79h8.2v8.2h-8.2zM101.44 699.29h8.2v8.2h-8.2zM107.57 702.54h8.2v8.2h-8.2zM113.71 708.78h8.2v8.2h-8.2zM119.85 717.77h8.2v8.2h-8.2zM125.99 713.78h8.2v8.2h-8.2zM132.12 725.77h8.2v8.2h-8.2zM138.26 727.01h8.2v8.2h-8.2zM144.4 708.28h8.2v8.2h-8.2zM150.53 713.78h8.2v8.2h-8.2zM156.67 719.52h8.2v8.2h-8.2zM162.81 719.02h8.2v8.2h-8.2zM168.94 719.02h8.2v8.2h-8.2zM175.08 720.77h8.2v8.2h-8.2zM181.22 713.78h8.2v8.2h-8.2zM187.35 715.78h8.2v8.2h-8.2zM193.49 706.28h8.2v8.2h-8.2zM199.63 725.27h8.2v8.2h-8.2zM205.77 713.78h8.2v8.2h-8.2zM211.9 717.02h8.2v8.2h-8.2zM218.04 711.53h8.2v8.2h-8.2zM224.18 698.79h8.2v8.2h-8.2zM230.31 719.02h8.2v8.2h-8.2zM236.45 720.27h8.2v8.2h-8.2zM242.59 721.27h8.2v8.2h-8.2zM248.72 713.28h8.2v8.2h-8.2zM254.86 711.53h8.2v8.2h-8.2zM261 711.28h8.2v8.2h-8.2zM267.14 703.79h8.2v8.2h-8.2zM273.27 706.28h8.2v8.2h-8.2zM279.41 693.8h8.2v8.2h-8.2zM285.55 698.79h8.2v8.2h-8.2zM291.68 697.04h8.2v8.2h-8.2zM297.82 691.3h8.2v8.2h-8.2zM303.96 678.31h8.2v8.2h-8.2zM310.09 675.07h8.2v8.2h-8.2zM316.23 671.22h8.2v8.2h-8.2zM322.37 666.97h8.2v8.2h-8.2zM328.51 640.25h8.2v8.2h-8.2zM334.64 641.25h8.2v8.2h-8.2zM340.78 648.74h8.2v8.2h-8.2zM346.92 643.75h8.2v8.2h-8.2zM353.05 647.49h8.2v8.2h-8.2zM359.19 646.24h8.2v8.2h-8.2zM365.33 642.75h8.2v8.2h-8.2zM371.46 646.24h8.2v8.2h-8.2zM377.6 643.25h8.2v8.2h-8.2zM383.74 646.24h8.2v8.2h-8.2zM389.88 656.23h8.2v8.2h-8.2zM396.01 664.48h8.2v8.2h-8.2zM402.15 645.75h8.2v8.2h-8.2zM408.29 653.24h8.2v8.2h-8.2zM414.42 654.49h8.2v8.2h-8.2zM420.56 648.24h8.2v8.2h-8.2zM426.7 642.75h8.2v8.2h-8.2zM432.83 642.5h8.2v8.2h-8.2zM438.97 639h8.2v8.2h-8.2zM445.11 668.22h8.2v8.2h-8.2zM451.25 654.99h8.2v8.2h-8.2zM457.38 658.98h8.2v8.2h-8.2zM463.52 671.22h8.2v8.2h-8.2zM469.66 673.22h8.2v8.2h-8.2zM475.79 673.22h8.2v8.2h-8.2zM481.93 663.23h8.2v8.2h-8.2zM488.07 655.74h8.2v8.2h-8.2zM494.2 666.97h8.2v8.2h-8.2zM500.34 661.98h8.2v8.2h-8.2zM506.48 654.99h8.2v8.2h-8.2zM512.62 659.98h8.2v8.2h-8.2zM518.75 659.48h8.2v8.2h-8.2zM524.89 652.49h8.2v8.2h-8.2zM531.03 658.23h8.2v8.2h-8.2z"/>
<text font-size="10" text-anchor="middle" y="518.2" x="99.4 111.67 271.24 283.51 289.65 295.78 301.92 308.06 314.19 320.33 326.47 332.61 338.74 344.88 351.02 357.15 363.29 369.43 375.56 381.7 387.84 393.98 400.11 406.25 412.39 418.52 424.66 430.8 436.93 443.07 449.21 455.35 461.48 467.62 473.76 479.89 486.03 492.17 498.3 504.44 510.58 516.72 522.85 528.99 535.13">*********************************************</text>
<rect x="769.75" y="350" width="37.1" height="11.1" fill="#c2c200"/>
<path d="M788.3 350V344.25M779 344.25h18.6" fill="none" stroke="#c2c200" stroke-width="1.25"/>
<rect x="825" y="290.75" width="37.1" height="70.35" fill="#0000ff"/>
<path d="M843.55 290.75V266M834.25 266h18.6" fill="none" stroke="#0000ff" stroke-width="1.25"/>
<rect x="917" y="348.5" width="37.1" height="12.6" fill="#c2c200"/>
<path d="M935.55 348.5V341.75M926.25 341.75h18.6" fill="none" stroke="#c2c200" stroke-width="1.25"/>
<rect x="972.1" y="239.25" width="37.1" height="121.85" fill="#0000ff"/>
<path d="M990.65 239.25V173.75M981.35 173.75h18.6" fill="none" stroke="#0000ff" stroke-width="1.25"/>
<rect x="1064.25" y="337.75" width="37.1" height="23.35" fill="#c2c200"/>
<path d="M1082.8 337.75V327M1073.5 327h18.6" fill="none" stroke="#c2c200" stroke-width="1.25"/>
<rect x="1119.6" y="169" width="37.1" height="192.1" fill="#0000ff"/>
<path d="M1138.15 169V83M1128.85 83h18.6" fill="none" stroke="#0000ff" stroke-width="1.25"/>
<path d="M734 66.4H742.55V361.1H1184" fill="none" stroke="#000" stroke-width="2.8" stroke-linejoin="round"/>
<line x1="734" y1="361.1" x2="742.55" y2="361.1" stroke="#000" stroke-width="2.8" />
<text transform="translate(731.6 369) scale(0.918 1)" font-size="22.8" text-anchor="end" >0.0</text>
<line x1="734" y1="302.16" x2="742.55" y2="302.16" stroke="#000" stroke-width="2.8" />
<text transform="translate(731.6 310.06) scale(0.918 1)" font-size="22.8" text-anchor="end" >0.5</text>
<line x1="734" y1="243.22" x2="742.55" y2="243.22" stroke="#000" stroke-width="2.8" />
<text transform="translate(731.6 251.12) scale(0.918 1)" font-size="22.8" text-anchor="end" >1.0</text>
<line x1="734" y1="184.28" x2="742.55" y2="184.28" stroke="#000" stroke-width="2.8" />
<text transform="translate(731.6 192.18) scale(0.918 1)" font-size="22.8" text-anchor="end" >1.5</text>
<line x1="734" y1="125.34" x2="742.55" y2="125.34" stroke="#000" stroke-width="2.8" />
<text transform="translate(731.6 133.24) scale(0.918 1)" font-size="22.8" text-anchor="end" >2.0</text>
<text transform="translate(731.6 74.3) scale(0.918 1)" font-size="22.8" text-anchor="end" >2.5</text>
<line x1="815.75" y1="361.1" x2="815.75" y2="369.6" stroke="#000" stroke-width="2.8" />
<text transform="translate(815.75 390.7) scale(0.933 1)" font-size="23.0" >LP</text>
<line x1="962.6" y1="361.1" x2="962.6" y2="369.6" stroke="#000" stroke-width="2.8" />
<text transform="translate(962.6 390.7) scale(0.933 1)" font-size="23.0" >DP</text>
<line x1="1110.3" y1="361.1" x2="1110.3" y2="369.6" stroke="#000" stroke-width="2.8" />
<text transform="translate(1110.3 390.7) scale(0.933 1)" font-size="23.0" >24 h</text>
<text transform="translate(682.9 215.1) rotate(-90) scale(0.959 1)" font-size="25.3">VH<tspan font-size="17.5" dy="4.5">2</tspan><tspan dy="-4.5"> (ml)</tspan></text>
<path d="M794.25 259.25V251.25H843.5V259.25" fill="none" stroke="#000" stroke-width="1.3"/>
<text transform="translate(818.1 250.5)" font-size="24" font-weight="normal" >****</text>
<path d="M939.25 167V159H990.75V167" fill="none" stroke="#000" stroke-width="1.3"/>
<text transform="translate(963.5 159)" font-size="24" font-weight="normal" >****</text>
<path d="M1086.25 77.25V69.25H1137.75V77.25" fill="none" stroke="#000" stroke-width="1.3"/>
<text transform="translate(1112.5 71)" font-size="24" font-weight="normal" >****</text>
<rect x="773.8" y="83.2" width="31.8" height="16.3" fill="#c2c200"/>
<rect x="773.8" y="117" width="31.8" height="16.3" fill="#0000ff"/>
<text transform="translate(822 99.3)" font-size="23.5" font-weight="normal" text-anchor="start" >HDD</text>
<text transform="translate(822 133)" font-size="23.5" font-weight="normal" text-anchor="start" >LDD</text>
<rect x="769.75" y="783.5" width="37.1" height="13" fill="#c2c200"/>
<path d="M788.3 783.5V778M779 778h18.6" fill="none" stroke="#c2c200" stroke-width="1.25"/>
<rect x="825" y="737" width="37.1" height="59.5" fill="#0000ff"/>
<path d="M843.55 737V717.75M834.25 717.75h18.6" fill="none" stroke="#0000ff" stroke-width="1.25"/>
<rect x="917" y="779.25" width="37.1" height="17.25" fill="#c2c200"/>
<path d="M935.55 779.25V768.5M926.25 768.5h18.6" fill="none" stroke="#c2c200" stroke-width="1.25"/>
<rect x="972.1" y="679.5" width="37.1" height="117" fill="#0000ff"/>
<path d="M990.65 679.5V619.5M981.35 619.5h18.6" fill="none" stroke="#0000ff" stroke-width="1.25"/>
<rect x="1064.25" y="766.25" width="37.1" height="30.25" fill="#c2c200"/>
<path d="M1082.8 766.25V750M1073.5 750h18.6" fill="none" stroke="#c2c200" stroke-width="1.25"/>
<rect x="1119.6" y="619.75" width="37.1" height="176.75" fill="#0000ff"/>
<path d="M1138.15 619.75V546.75M1128.85 546.75h18.6" fill="none" stroke="#0000ff" stroke-width="1.25"/>
<path d="M734 501.8H742.55V796.5H1184" fill="none" stroke="#000" stroke-width="2.8" stroke-linejoin="round"/>
<line x1="734" y1="796.5" x2="742.55" y2="796.5" stroke="#000" stroke-width="2.8" />
<text transform="translate(731.6 804.4) scale(0.918 1)" font-size="22.8" text-anchor="end" >0.0</text>
<line x1="734" y1="737.56" x2="742.55" y2="737.56" stroke="#000" stroke-width="2.8" />
<text transform="translate(731.6 745.46) scale(0.918 1)" font-size="22.8" text-anchor="end" >0.5</text>
<line x1="734" y1="678.62" x2="742.55" y2="678.62" stroke="#000" stroke-width="2.8" />
<text transform="translate(731.6 686.52) scale(0.918 1)" font-size="22.8" text-anchor="end" >1.0</text>
<line x1="734" y1="619.68" x2="742.55" y2="619.68" stroke="#000" stroke-width="2.8" />
<text transform="translate(731.6 627.58) scale(0.918 1)" font-size="22.8" text-anchor="end" >1.5</text>
<line x1="734" y1="560.74" x2="742.55" y2="560.74" stroke="#000" stroke-width="2.8" />
<text transform="translate(731.6 568.64) scale(0.918 1)" font-size="22.8" text-anchor="end" >2.0</text>
<text transform="translate(731.6 509.7) scale(0.918 1)" font-size="22.8" text-anchor="end" >2.5</text>
<line x1="815.75" y1="796.5" x2="815.75" y2="805" stroke="#000" stroke-width="2.8" />
<text transform="translate(815.75 826.1) scale(0.933 1)" font-size="23.0" >LP</text>
<line x1="962.6" y1="796.5" x2="962.6" y2="805" stroke="#000" stroke-width="2.8" />
<text transform="translate(962.6 826.1) scale(0.933 1)" font-size="23.0" >DP</text>
<line x1="1110.3" y1="796.5" x2="1110.3" y2="805" stroke="#000" stroke-width="2.8" />
<text transform="translate(1110.3 826.1) scale(0.933 1)" font-size="23.0" >24 h</text>
<text transform="translate(682.9 650.5) rotate(-90) scale(0.959 1)" font-size="25.3">VH<tspan font-size="17.5" dy="4.5">2</tspan><tspan dy="-4.5"> (ml)</tspan></text>
<path d="M795.75 709.5V701.5H845V709.5" fill="none" stroke="#000" stroke-width="1.3"/>
<text transform="translate(820 700.5)" font-size="24" font-weight="normal" >****</text>
<path d="M941.4 612.25V604.25H990.6V612.25" fill="none" stroke="#000" stroke-width="1.3"/>
<text transform="translate(965.5 604.5)" font-size="24" font-weight="normal" >****</text>
<path d="M1088.75 537.25V529.25H1137.75V537.25" fill="none" stroke="#000" stroke-width="1.3"/>
<text transform="translate(1112.5 533)" font-size="24" font-weight="normal" >****</text>
<rect x="1414.3" y="329.5" width="39.2" height="31.6" fill="#c2c200"/>
<path d="M1415.4 329.5V307.25H1452.4V329.5M1433.9 307.25V294M1423.9 294h20" fill="none" stroke="#000" stroke-width="2.4"/>
<path d="M1433.9 329.5V313.25M1423.9 313.25h20" fill="none" stroke="#c2c200" stroke-width="2.4"/>
<rect x="1469.4" y="322.75" width="39.2" height="38.35" fill="#0000ff"/>
<path d="M1470.5 322.75V294.75H1507.5V322.75M1489 294.75V288.5M1479 288.5h20" fill="none" stroke="#000" stroke-width="2.4"/>
<path d="M1489 322.75V315M1479 315h20" fill="none" stroke="#0000ff" stroke-width="2.4"/>
<rect x="1580.3" y="294" width="39.2" height="67.1" fill="#c2c200"/>
<path d="M1581.4 294V245H1618.4V294M1599.9 245V231.25M1589.9 231.25h20" fill="none" stroke="#000" stroke-width="2.4"/>
<path d="M1599.9 294V277M1589.9 277h20" fill="none" stroke="#c2c200" stroke-width="2.4"/>
<rect x="1635.4" y="283.25" width="39.2" height="77.85" fill="#0000ff"/>
<path d="M1636.5 283.25V225.3H1673.5V283.25M1655 225.3V213.3M1645 213.3h20" fill="none" stroke="#000" stroke-width="2.4"/>
<path d="M1655 283.25V267.25M1645 267.25h20" fill="none" stroke="#0000ff" stroke-width="2.4"/>
<rect x="1745.4" y="264" width="39.2" height="97.1" fill="#c2c200"/>
<path d="M1746.5 264V191.5H1783.5V264M1765 191.5V175.25M1755 175.25h20" fill="none" stroke="#000" stroke-width="2.4"/>
<path d="M1765 264V244M1755 244h20" fill="none" stroke="#c2c200" stroke-width="2.4"/>
<rect x="1800.9" y="245.25" width="39.2" height="115.85" fill="#0000ff"/>
<path d="M1802 245.25V160H1839V245.25M1820.5 160V144.4M1810.5 144.4h20" fill="none" stroke="#000" stroke-width="2.4"/>
<path d="M1820.5 245.25V226M1810.5 226h20" fill="none" stroke="#0000ff" stroke-width="2.4"/>
<path d="M1398.3 66.4H1406.75V361.1H1848" fill="none" stroke="#000" stroke-width="2.8" stroke-linejoin="round"/>
<line x1="1398.3" y1="361.1" x2="1406.75" y2="361.1" stroke="#000" stroke-width="2.8" />
<text transform="translate(1396 369) scale(0.918 1)" font-size="22.8" text-anchor="end" >0</text>
<line x1="1398.3" y1="287.43" x2="1406.75" y2="287.43" stroke="#000" stroke-width="2.8" />
<text transform="translate(1396 295.32) scale(0.918 1)" font-size="22.8" text-anchor="end" >1</text>
<line x1="1398.3" y1="213.75" x2="1406.75" y2="213.75" stroke="#000" stroke-width="2.8" />
<text transform="translate(1396 221.65) scale(0.918 1)" font-size="22.8" text-anchor="end" >2</text>
<line x1="1398.3" y1="140.07" x2="1406.75" y2="140.07" stroke="#000" stroke-width="2.8" />
<text transform="translate(1396 147.97) scale(0.918 1)" font-size="22.8" text-anchor="end" >3</text>
<text transform="translate(1396 74.3) scale(0.918 1)" font-size="22.8" text-anchor="end" >4</text>
<line x1="1460.6" y1="361.1" x2="1460.6" y2="369.6" stroke="#000" stroke-width="2.8" />
<text transform="translate(1460.6 390.7) scale(0.933 1)" font-size="23.0" >LP</text>
<line x1="1626.8" y1="361.1" x2="1626.8" y2="369.6" stroke="#000" stroke-width="2.8" />
<text transform="translate(1626.8 390.7) scale(0.933 1)" font-size="23.0" >DP</text>
<line x1="1793.3" y1="361.1" x2="1793.3" y2="369.6" stroke="#000" stroke-width="2.8" />
<text transform="translate(1793.3 390.7) scale(0.933 1)" font-size="23.0" >24 h</text>
<text transform="translate(1370 216) rotate(-90) scale(0.934 1)" font-size="25.3">Cumulative intake (g)</text>
<rect x="1425" y="77.8" width="34" height="18.8" fill="#c2c200"/>
<rect x="1425" y="112.1" width="34" height="18.8" fill="#0000ff"/>
<rect x="1426.1" y="147.2" width="31.7" height="16.3" fill="#fff" stroke="#000" stroke-width="2.2"/>
<text transform="translate(1475 95) scale(1.02 1)" font-size="23.5" font-weight="normal" text-anchor="start" >HDD (Starch)</text>
<text transform="translate(1475 129) scale(1.02 1)" font-size="23.5" font-weight="normal" text-anchor="start" >LDD (Starch)</text>
<text transform="translate(1475 163.2) scale(1.02 1)" font-size="23.5" font-weight="normal" text-anchor="start" >Total food intake</text>
<path d="M1765.5 136.5V128.4H1820.5V136.5" fill="none" stroke="#000" stroke-width="2.4"/>
<text x="1792.3" y="131.3" font-size="22" font-weight="normal">*</text>
<path d="M1765.5 217.8V209.8H1774M1780.6 209.8H1789M1794.9 209.8H1803.8M1809.7 209.8H1819.3M1820.5 209.6V217.8" fill="none" stroke="#000" stroke-width="2.4"/>
<text x="1792.4" y="211.9" font-size="22" font-weight="normal">*</text>
<rect x="1414.3" y="740.5" width="39.2" height="56" fill="#c2c200"/>
<path d="M1415.4 740.5V699.5H1452.4V740.5M1433.9 699.5V683.25M1423.9 683.25h20" fill="none" stroke="#000" stroke-width="2.4"/>
<path d="M1433.9 740.5V720.25M1423.9 720.25h20" fill="none" stroke="#c2c200" stroke-width="2.4"/>
<rect x="1469.4" y="750" width="39.2" height="46.5" fill="#0000ff"/>
<path d="M1470.5 750V716.25H1507.5V750M1489 716.25V705.25M1479 705.25h20" fill="none" stroke="#000" stroke-width="2.4"/>
<path d="M1489 750V736.25M1479 736.25h20" fill="none" stroke="#0000ff" stroke-width="2.4"/>
<rect x="1580.3" y="708.75" width="39.2" height="87.75" fill="#c2c200"/>
<path d="M1581.4 708.75V643.9H1618.4V708.75M1599.9 643.9V629.2M1589.9 629.2h20" fill="none" stroke="#000" stroke-width="2.4"/>
<path d="M1599.9 708.75V690.5M1589.9 690.5h20" fill="none" stroke="#c2c200" stroke-width="2.4"/>
<rect x="1635.4" y="707.25" width="39.2" height="89.25" fill="#0000ff"/>
<path d="M1636.5 707.25V641.25H1673.5V707.25M1655 641.25V633.5M1645 633.5h20" fill="none" stroke="#000" stroke-width="2.4"/>
<path d="M1655 707.25V698.5M1645 698.5h20" fill="none" stroke="#0000ff" stroke-width="2.4"/>
<rect x="1745.4" y="653.4" width="39.2" height="143.1" fill="#c2c200"/>
<path d="M1746.5 653.4V547H1783.5V653.4M1765 547V530.75M1755 530.75h20" fill="none" stroke="#000" stroke-width="2.4"/>
<path d="M1765 653.4V633.6M1755 633.6h20" fill="none" stroke="#c2c200" stroke-width="2.4"/>
<rect x="1800.9" y="661.75" width="39.2" height="134.75" fill="#0000ff"/>
<path d="M1802 661.75V561H1839V661.75M1820.5 561V549.75M1810.5 549.75h20" fill="none" stroke="#000" stroke-width="2.4"/>
<path d="M1820.5 661.75V647.9M1810.5 647.9h20" fill="none" stroke="#0000ff" stroke-width="2.4"/>
<path d="M1398.3 501.8H1406.75V796.5H1848" fill="none" stroke="#000" stroke-width="2.8" stroke-linejoin="round"/>
<line x1="1398.3" y1="796.5" x2="1406.75" y2="796.5" stroke="#000" stroke-width="2.8" />
<text transform="translate(1396 804.4) scale(0.918 1)" font-size="22.8" text-anchor="end" >0</text>
<line x1="1398.3" y1="722.83" x2="1406.75" y2="722.83" stroke="#000" stroke-width="2.8" />
<text transform="translate(1396 730.73) scale(0.918 1)" font-size="22.8" text-anchor="end" >1</text>
<line x1="1398.3" y1="649.15" x2="1406.75" y2="649.15" stroke="#000" stroke-width="2.8" />
<text transform="translate(1396 657.05) scale(0.918 1)" font-size="22.8" text-anchor="end" >2</text>
<line x1="1398.3" y1="575.48" x2="1406.75" y2="575.48" stroke="#000" stroke-width="2.8" />
<text transform="translate(1396 583.38) scale(0.918 1)" font-size="22.8" text-anchor="end" >3</text>
<text transform="translate(1396 509.7) scale(0.918 1)" font-size="22.8" text-anchor="end" >4</text>
<line x1="1460.6" y1="796.5" x2="1460.6" y2="805" stroke="#000" stroke-width="2.8" />
<text transform="translate(1460.6 826.1) scale(0.933 1)" font-size="23.0" >LP</text>
<line x1="1626.8" y1="796.5" x2="1626.8" y2="805" stroke="#000" stroke-width="2.8" />
<text transform="translate(1626.8 826.1) scale(0.933 1)" font-size="23.0" >DP</text>
<line x1="1793.3" y1="796.5" x2="1793.3" y2="805" stroke="#000" stroke-width="2.8" />
<text transform="translate(1793.3 826.1) scale(0.933 1)" font-size="23.0" >24 h</text>
<text transform="translate(1370 651.4) rotate(-90) scale(0.934 1)" font-size="25.3">Cumulative intake (g)</text>
<text transform="translate(2.5 38) scale(0.985 1)" font-size="53" text-anchor="start" >a</text>
<text transform="translate(653 38) scale(0.985 1)" font-size="53" text-anchor="start" >b</text>
<text transform="translate(1298 38) scale(0.985 1)" font-size="53" text-anchor="start" >c</text>
<text transform="translate(2.2 455.8) scale(0.985 1)" font-size="53" text-anchor="start" >d</text>
<text transform="translate(652 455.8) scale(0.985 1)" font-size="53" text-anchor="start" >e</text>
<text transform="translate(1298.3 455.8) scale(0.985 1)" font-size="53" text-anchor="start" >f</text>
</svg>
</body></html>
